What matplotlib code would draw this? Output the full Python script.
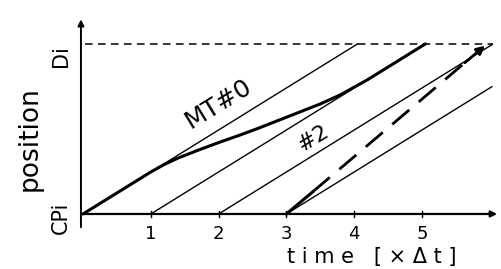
import matplotlib
matplotlib.use("Agg")
import matplotlib.pyplot as plt
import numpy as np

# ---- data ----
time_ticks = [1, 2, 3, 4, 5]
tick_labels = ["1", "2", "3", "4", "5"]
D_level = 4.05                      # position of D_i
t_end = 6.03                        # right end of drawn lines
thin_starts = [0, 1, 2, 3]          # start times of the thin reference lines (unit slope)
mt0_t = [0.0, 0.6, 1.0, 1.2, 1.4, 1.7, 2.0, 2.3, 2.6, 2.9, 3.2, 3.5, 3.8, 4.2, 4.6, 5.05]
mt0_p = [0.0, 0.6, 1.0, 1.18, 1.33, 1.52, 1.70, 1.87, 2.05, 2.24, 2.43, 2.62, 2.84, 3.2, 3.6, 4.05]
mt2_t = [3.0, 3.39, 5.96]
mt2_p = [0.0, 0.53, 4.05]

fig = plt.figure(figsize=(5.01, 2.69), dpi=100)
ax = fig.add_axes([0, 0, 1, 1])
ax.set_xlim(-1.224, 6.165)
ax.set_ylim(-1.31, 5.095)
ax.axis("off")

# axes with arrows
ax.annotate("", xy=(6.15, 0), xytext=(-0.04, 0),
            arrowprops=dict(arrowstyle="-|>", color="black", lw=1.6, mutation_scale=9))
ax.annotate("", xy=(-0.03, 4.7), xytext=(-0.03, -0.38),
            arrowprops=dict(arrowstyle="-|>", color="black", lw=1.4, mutation_scale=9))

# tick marks
for t in time_ticks:
    ax.plot([t, t], [-0.07, 0.07], color="black", lw=1.0)
for t, lab in zip(time_ticks, tick_labels):
    ax.text(t, -0.27, lab, ha="center", va="top", fontsize=13)

# D_i dashed line
ax.plot([0.03, 6.05], [D_level, D_level], color="black", lw=1.1, dashes=(5, 3.5))

# thin lines
for s in thin_starts:
    te = min(s + D_level, t_end)
    ax.plot([s, te], [0, te - s], color="black", lw=1.0)

# MT#0 thick curve
ax.plot(mt0_t, mt0_p, color="black", lw=2.2, solid_capstyle="round", solid_joinstyle="round")

# MT#2 : thick solid start, then dashed with arrow
slope2 = (mt2_p[2] - mt2_p[1]) / (mt2_t[2] - mt2_t[1])
ax.plot(mt2_t[:2], mt2_p[:2], color="black", lw=2.2)
ax.plot([mt2_t[1], 5.72], [mt2_p[1], mt2_p[1] + (5.72 - mt2_t[1]) * slope2],
        color="black", lw=2.0, dashes=(8, 4.5))
ax.annotate("", xy=(mt2_t[2], mt2_p[2]),
            xytext=(5.6, mt2_p[1] + (5.6 - mt2_t[1]) * slope2),
            arrowprops=dict(arrowstyle="-|>", color="black", lw=2.0, mutation_scale=12))

# labels
ax.text(2.0, 2.62, "MT#0", rotation=31.5, ha="center", va="center", fontsize=18)
ax.text(3.4, 1.81, "#2", rotation=31.5, ha="center", va="center", fontsize=16)

ax.text(-0.33, D_level - 0.3, "Di", rotation=90, ha="center", va="center", fontsize=15)
ax.text(-0.33, -0.1, "CPi", rotation=90, ha="center", va="center", fontsize=15)
ax.text(-0.78, 1.8, "position", rotation=90, ha="center", va="center", fontsize=19)
ax.text(4.26, -1.02, "t i m e   [ × Δ t ]", ha="center", va="center", fontsize=15)

fig.savefig("out.png", dpi=100, facecolor="white")
